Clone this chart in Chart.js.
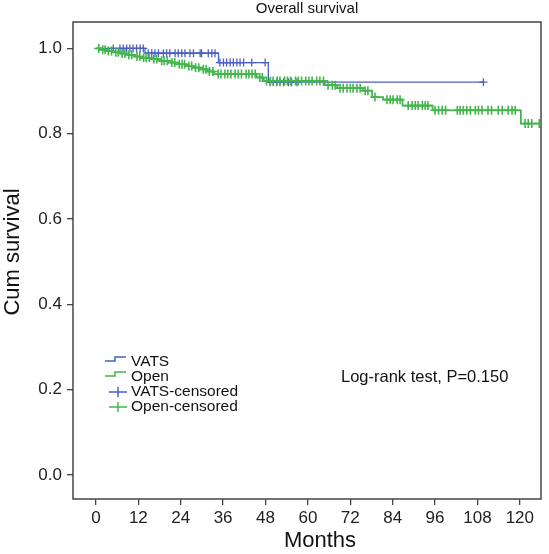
<!DOCTYPE html>
<html>
<head>
<meta charset="utf-8">
<script src="https://cdn.jsdelivr.net/npm/chart.js@4"></script>
<style>
  html, body { margin: 0; padding: 0; background: #fff; }
  canvas { display: block; }
</style>
</head>
<body>
<canvas id="myChart" width="549" height="554"></canvas>
<script>
// tick labels
const monthTicks = [0, 12, 24, 36, 48, 60, 72, 84, 96, 108, 120];
const survTicks = [0.0, 0.2, 0.4, 0.6, 0.8, 1.0];

// VATS group: step times (months) and survival after each step
const vatsTimes = [0, 13.9, 34.7, 48.8, 109.7];
const vatsSurv = [1.0, 0.989, 0.967, 0.921, 0.921];
const vatsCensored = [4.9, 6.8, 7.7, 8.7, 9.6, 10.5, 11.5, 12.5, 13.4,
  14.8, 15.8, 16.7, 17.7, 19.1, 20.0, 20.9, 22.4, 23.3, 24.3, 25.2, 26.6, 27.6, 29.5, 29.9, 31.8, 32.8, 33.7,
  35.1, 36.1, 37.0, 38.0, 38.9, 39.9, 40.8, 41.8, 44.1, 47.9,
  49.3, 50.2, 51.2, 52.1, 53.1, 54.5, 55.4, 56.9, 109.7];

// Open group
const openTimes = [0, 1.5, 3, 5, 7, 9, 11, 13, 15.5, 18, 20.5, 23, 25.5, 27.5, 29.5, 31.5, 33.5,
  45.5, 47.5, 64.8, 68.3, 75.5, 78.2, 81.3, 86.8, 95.3, 120.3, 125.8];
const openSurv = [1.0, 0.997, 0.994, 0.991, 0.988, 0.985, 0.981, 0.978, 0.975, 0.971, 0.967, 0.963, 0.959, 0.955, 0.951, 0.946, 0.940,
  0.932, 0.924, 0.914, 0.907, 0.901, 0.886, 0.880, 0.866, 0.855, 0.824, 0.824];
const openCensored = [0.8, 1.9, 2.6, 3.5, 4.4, 5.6, 6.3, 7.4, 8.2, 9.3, 10.1, 11.6, 12.4, 13.5, 14.2, 15.1, 16.4, 17.2,
  18.6, 19.3, 20.2, 21.5, 22.3, 23.6, 24.4, 25.1, 26.3, 27.1, 28.2, 29.1, 30.4, 31.2, 32.1, 33.1, 34.6, 35.4,
  36.5, 37.3, 38.2, 39.4, 40.3, 41.2, 42.5, 43.3, 44.2, 45.1, 46.4, 47.1, 48.3, 49.4, 50.2, 51.3, 52.1, 53.4,
  54.2, 55.1, 56.5, 57.3, 58.2, 59.4, 60.3, 61.2, 62.5, 63.4, 64.4, 65.7, 66.9, 67.7, 69.1, 70.0, 71.1, 72.0,
  72.8, 73.9, 74.8, 76.2, 77.0, 79.0, 82.4, 83.3, 84.1, 85.3, 86.1, 88.4, 89.5, 90.4, 91.2, 92.4, 93.2, 94.0,
  96.0, 97.0, 98.0, 99.0, 102.3, 103.1, 104.0, 105.0, 106.0, 107.4, 108.3, 109.3, 111.0, 112.0, 113.9, 115.0,
  116.7, 117.8, 118.7, 121.5, 122.4, 123.4, 125.5];

const legendLabels = ['VATS', 'Open', 'VATS-censored', 'Open-censored'];

const blue = '#4a5fc4';
const green = '#44b54c';
const font = "'Liberation Sans', Arial, Helvetica, sans-serif";

// survival value at time t from the step arrays
function survAt(times, surv, t) {
  let s = surv[0];
  for (let i = 0; i < times.length; i++) {
    if (times[i] <= t) s = surv[i];
  }
  return s;
}

function toPoints(times, surv) {
  return times.map((t, i) => ({x: t, y: surv[i]}));
}

function censorPoints(list, times, surv) {
  return list.map(t => ({x: t, y: survAt(times, surv, t)}));
}

const extras = {
  id: 'extras',
  beforeDatasetsDraw(chart) {
    const {ctx, chartArea: a} = chart;
    ctx.save();
    ctx.strokeStyle = '#444';
    ctx.lineWidth = 1.5;
    ctx.strokeRect(a.left, a.top, a.right - a.left, a.bottom - a.top);
    ctx.restore();
  },
  afterDraw(chart) {
    const {ctx, chartArea: a} = chart;
    ctx.save();
    ctx.fillStyle = '#111';
    ctx.textBaseline = 'middle';

    // title
    ctx.font = '15px ' + font;
    ctx.textAlign = 'center';
    ctx.fillText('Overall survival', (a.left + a.right) / 2, 9);

    // axis titles
    ctx.font = '22px ' + font;
    ctx.fillText('Months', 320, 541);
    ctx.save();
    ctx.translate(13, 252);
    ctx.rotate(-Math.PI / 2);
    ctx.fillText('Cum survival', 0, 0);
    ctx.restore();

    // log-rank note
    ctx.font = '16.5px ' + font;
    ctx.textAlign = 'left';
    ctx.fillText('Log-rank test, P=0.150', 341, 377);

    // legend
    const rows = [362, 377, 392, 407];
    const colors = [blue, green, blue, green];
    ctx.font = '15.5px ' + font;
    legendLabels.forEach((lab, i) => {
      const cy = rows[i];
      ctx.strokeStyle = colors[i];
      ctx.lineWidth = 1.5;
      ctx.beginPath();
      if (i < 2) {
        ctx.moveTo(105, cy - 1);
        ctx.lineTo(115, cy - 1);
        ctx.lineTo(115, cy - 5);
        ctx.lineTo(126, cy - 5);
      } else {
        ctx.moveTo(109, cy);
        ctx.lineTo(127, cy);
        ctx.moveTo(118, cy - 5);
        ctx.lineTo(118, cy + 5);
      }
      ctx.stroke();
      ctx.fillStyle = '#111';
      ctx.fillText(lab, 131, cy);
    });
    ctx.restore();
  }
};

const ctx = document.getElementById('myChart');

new Chart(ctx, {
  type: 'line',
  data: {
    datasets: [
      {
        label: 'Open-censored',
        type: 'scatter',
        data: censorPoints(openCensored, openTimes, openSurv),
        pointStyle: 'cross',
        pointRadius: 4.5,
        pointBorderWidth: 1.6,
        borderColor: green,
        backgroundColor: green,
        showLine: false,
        order: 0
      },
      {
        label: 'Open',
        data: toPoints(openTimes, openSurv),
        borderColor: green,
        borderWidth: 1.8,
        stepped: true,
        pointRadius: 0,
        fill: false,
        order: 1
      },
      {
        label: 'VATS-censored',
        type: 'scatter',
        data: censorPoints(vatsCensored, vatsTimes, vatsSurv),
        pointStyle: 'cross',
        pointRadius: 4,
        pointBorderWidth: 1.3,
        borderColor: blue,
        backgroundColor: blue,
        showLine: false,
        order: 2
      },
      {
        label: 'VATS',
        data: toPoints(vatsTimes, vatsSurv),
        borderColor: blue,
        borderWidth: 1.3,
        stepped: true,
        pointRadius: 0,
        fill: false,
        order: 3
      }
    ]
  },
  options: {
    responsive: false,
    animation: false,
    layout: {padding: {left: 0, top: 22, right: 8, bottom: 0}},
    plugins: {
      legend: {display: false},
      tooltip: {enabled: false},
      title: {display: false}
    },
    scales: {
      x: {
        type: 'linear',
        min: -6.5,
        max: 126,
        afterFit: s => { s.height = 55; },
        afterBuildTicks: s => { s.ticks = monthTicks.map(v => ({value: v})); },
        grid: {display: true, drawOnChartArea: false, drawTicks: true, tickLength: 6, color: '#444', lineWidth: 1.3},
        border: {display: false},
        ticks: {
          color: '#222',
          font: {family: font, size: 17},
          padding: 3,
          maxRotation: 0,
          autoSkip: false,
          callback: v => String(v)
        }
      },
      y: {
        type: 'linear',
        min: -0.056,
        max: 1.062,
        afterFit: s => { s.width = 73; },
        afterBuildTicks: s => { s.ticks = survTicks.map(v => ({value: v})); },
        grid: {display: true, drawOnChartArea: false, drawTicks: true, tickLength: 6, color: '#444', lineWidth: 1.3},
        border: {display: false},
        ticks: {
          color: '#222',
          font: {family: font, size: 17},
          padding: 5,
          autoSkip: false,
          callback: v => v.toFixed(1)
        }
      }
    }
  },
  plugins: [extras]
});
</script>
</body>
</html>
